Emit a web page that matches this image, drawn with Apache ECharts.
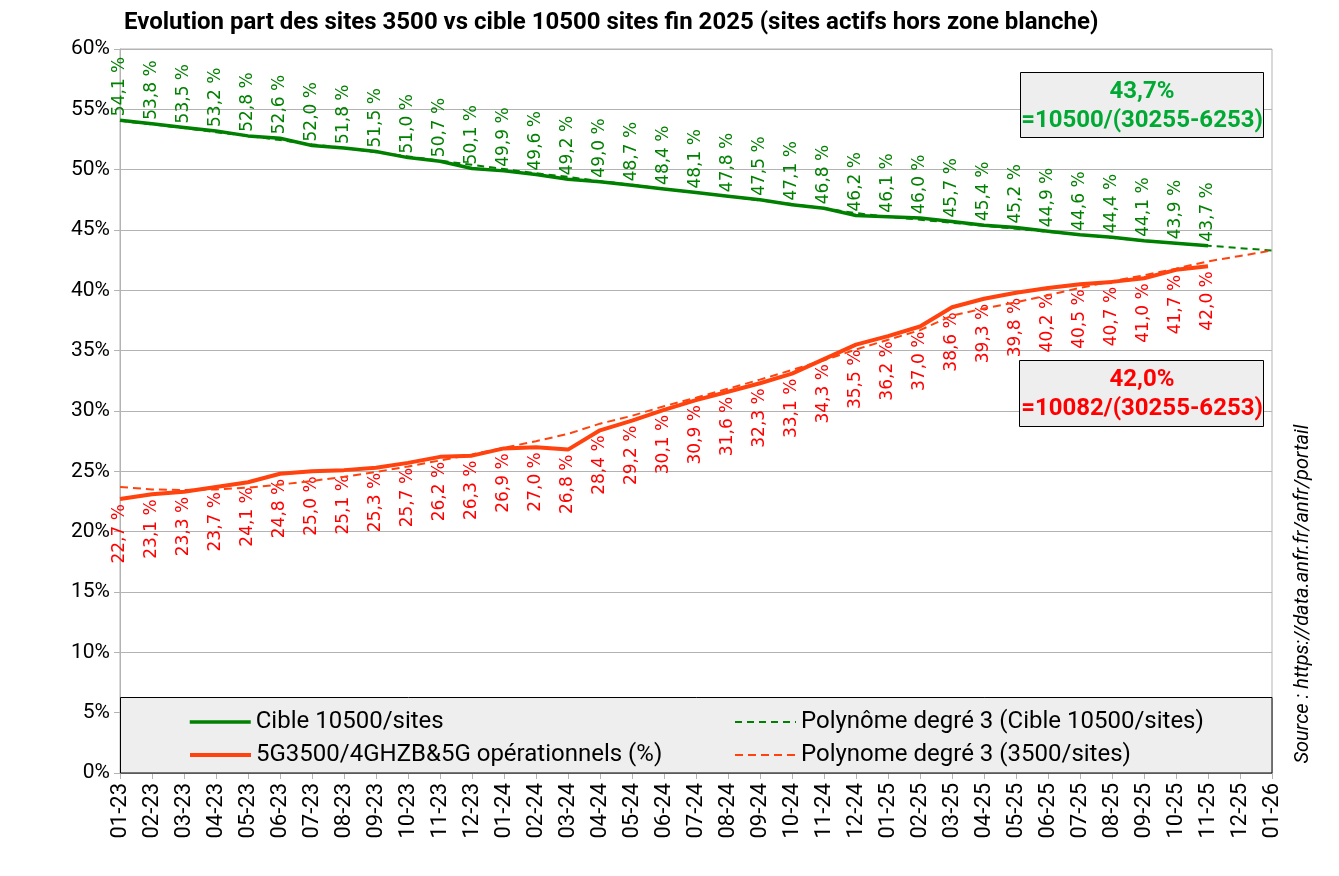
<!DOCTYPE html>
<html>
<head>
<meta charset="utf-8">
<script src="https://cdn.jsdelivr.net/npm/echarts@6/dist/echarts.min.js"></script>
<style>
html,body{margin:0;padding:0;background:#fff;}
#chart{width:1339px;height:876px;}
</style>
</head>
<body>
<div id="chart"></div>
<script>
var categories = ['01-23','02-23','03-23','04-23','05-23','06-23','07-23','08-23','09-23','10-23','11-23','12-23',
  '01-24','02-24','03-24','04-24','05-24','06-24','07-24','08-24','09-24','10-24','11-24','12-24',
  '01-25','02-25','03-25','04-25','05-25','06-25','07-25','08-25','09-25','10-25','11-25','12-25','01-26'];
var cibleValues = [54.1,53.8,53.5,53.2,52.8,52.6,52.0,51.8,51.5,51.0,50.7,50.1,49.9,49.6,49.2,49.0,48.7,48.4,48.1,47.8,
  47.5,47.1,46.8,46.2,46.1,46.0,45.7,45.4,45.2,44.9,44.6,44.4,44.1,43.9,43.7];
var opValues = [22.7,23.1,23.3,23.7,24.1,24.8,25.0,25.1,25.3,25.7,26.2,26.3,26.9,27.0,26.8,28.4,29.2,30.1,30.9,31.6,
  32.3,33.1,34.3,35.5,36.2,37.0,38.6,39.3,39.8,40.2,40.5,40.7,41.0,41.7,42.0];
var cibleTrend = [54.05,53.75,53.45,53.1,52.8,52.45,52.1,51.8,51.45,51.1,50.75,50.4,50.05,49.7,49.4,49.05,48.75,48.4,48.1,47.8,
  47.45,47.15,46.8,46.4,46.1,45.85,45.6,45.35,45.1,44.85,44.6,44.35,44.1,43.9,43.7,43.5,43.3];
var opTrend = [23.7,23.5,23.45,23.5,23.65,23.9,24.2,24.55,24.95,25.4,25.9,26.4,26.95,27.5,28.1,28.95,29.6,30.4,31.1,31.85,
  32.6,33.4,34.2,35.1,35.9,36.7,37.9,38.5,39.0,39.6,40.2,40.75,41.25,41.8,42.4,42.85,43.3];
var yTicks = [0,5,10,15,20,25,30,35,40,45,50,55,60];

var GREEN = '#008000', GREEN_TXT = '#00a933', RED_LINE = '#ff420e', RED_TXT = '#ff0000';
function fmt(p){ return p.value.toFixed(1).replace('.', ',') + ' %'; }

var chart = echarts.init(document.getElementById('chart'));
var legendBase = {
  orient: 'horizontal', itemWidth: 61, itemHeight: 14, itemGap: 6, z: 20, padding: 0,
  textStyle: {fontFamily: 'Roboto', fontSize: 24, color: '#000', padding: [0, 0, 0, 0]},
  itemStyle: {opacity: 0},
  lineStyle: {width: 'inherit'}
};
function lg(name, left, top){
  return Object.assign({}, legendBase, {data: [name], left: left, top: top});
}
chart.setOption({
  animation: false,
  backgroundColor: '#fff',
  title: {
    text: 'Evolution part des sites 3500 vs cible 10500 sites fin 2025 (sites actifs hors zone blanche)',
    left: 119, top: 6,
    textStyle: {fontFamily: 'Roboto', fontWeight: 'bold', fontSize: 24, color: '#000'}
  },
  grid: {left: 120, right: 67, top: 49, bottom: 103, show: true, borderColor: '#b3b3b3', borderWidth: 1, backgroundColor: 'transparent'},
  legend: [
    lg('Cible 10500/sites', 188, 710),
    lg('5G3500/4GHZB&5G opérationnels (%)', 188, 743),
    lg('Polynôme degré 3 (Cible 10500/sites)', 734, 710),
    lg('Polynome degré 3 (3500/sites)', 734, 743)
  ],
  xAxis: {
    type: 'category', data: categories, boundaryGap: false,
    axisLine: {lineStyle: {color: '#b3b3b3'}},
    axisTick: {show: true, interval: 0, length: 6, lineStyle: {color: '#b3b3b3'}},
    axisLabel: {interval: 0, rotate: 90, margin: 10, fontFamily: 'Roboto', fontSize: 22, color: '#000'},
    splitLine: {show: false}
  },
  yAxis: {
    type: 'value', min: yTicks[0], max: yTicks[yTicks.length-1], interval: 5,
    axisLine: {show: true, lineStyle: {color: '#b3b3b3'}},
    axisTick: {show: true, length: 6, lineStyle: {color: '#b3b3b3'}},
    axisLabel: {formatter: '{value}%', fontFamily: 'Roboto', fontSize: 21, color: '#000', margin: 10},
    splitLine: {lineStyle: {color: '#b3b3b3', width: 1}}
  },
  series: [
    {
      name: 'Cible 10500/sites', type: 'line', data: cibleValues, symbol: 'circle', symbolSize: 0.1, showSymbol: true, z: 3,
      lineStyle: {color: GREEN, width: 3.5}, itemStyle: {color: GREEN},
      label: {show: true, position: 'top', distance: 4, rotate: 90, align: 'left', verticalAlign: 'middle',
        formatter: fmt, fontFamily: 'DejaVu Sans', fontSize: 17, color: GREEN}
    },
    {
      name: '5G3500/4GHZB&5G opérationnels (%)', type: 'line', data: opValues, symbol: 'circle', symbolSize: 0.1, showSymbol: true, z: 3,
      lineStyle: {color: RED_LINE, width: 4}, itemStyle: {color: RED_LINE},
      label: {show: true, position: 'bottom', distance: 5, rotate: 90, align: 'right', verticalAlign: 'middle',
        formatter: fmt, fontFamily: 'DejaVu Sans', fontSize: 17, color: RED_TXT}
    },
    {
      name: 'Polynôme degré 3 (Cible 10500/sites)', type: 'line', data: cibleTrend, symbol: 'none', z: 4,
      lineStyle: {color: GREEN, width: 2, type: [7, 5]}, itemStyle: {color: GREEN}
    },
    {
      name: 'Polynome degré 3 (3500/sites)', type: 'line', data: opTrend, symbol: 'none', z: 4,
      lineStyle: {color: RED_LINE, width: 2, type: [8, 5]}, itemStyle: {color: RED_LINE}
    }
  ],
  graphic: [
    {type: 'rect', z: 10, shape: {x: 120.5, y: 697.5, width: 1151.5, height: 75.5}, style: {fill: '#eeeeee', stroke: '#000', lineWidth: 1}},
    {type: 'rect', z: 10, shape: {x: 1020.5, y: 72.5, width: 243, height: 65}, style: {fill: '#eeeeee', stroke: '#000', lineWidth: 1}},
    {type: 'text', z: 11, x: 1142, y: 92, style: {text: '43,7%', fill: GREEN_TXT, font: 'bold 24px Roboto', textAlign: 'center', textVerticalAlign: 'middle'}},
    {type: 'text', z: 11, x: 1142, y: 121, style: {text: '=10500/(30255-6253)', fill: GREEN_TXT, font: 'bold 24px Roboto', textAlign: 'center', textVerticalAlign: 'middle'}},
    {type: 'rect', z: 10, shape: {x: 1019.5, y: 360.5, width: 244, height: 66}, style: {fill: '#eeeeee', stroke: '#000', lineWidth: 1}},
    {type: 'text', z: 11, x: 1142, y: 380, style: {text: '42,0%', fill: RED_TXT, font: 'bold 24px Roboto', textAlign: 'center', textVerticalAlign: 'middle'}},
    {type: 'text', z: 11, x: 1142, y: 409, style: {text: '=10082/(30255-6253)', fill: RED_TXT, font: 'bold 24px Roboto', textAlign: 'center', textVerticalAlign: 'middle'}},
    {type: 'text', z: 11, x: 1303, y: 594, rotation: Math.PI/2, style: {text: 'Source : https://data.anfr.fr/anfr/portail', fill: '#000', font: 'italic 20px Roboto', textAlign: 'center', textVerticalAlign: 'middle'}}
  ]
});
</script>
</body>
</html>
